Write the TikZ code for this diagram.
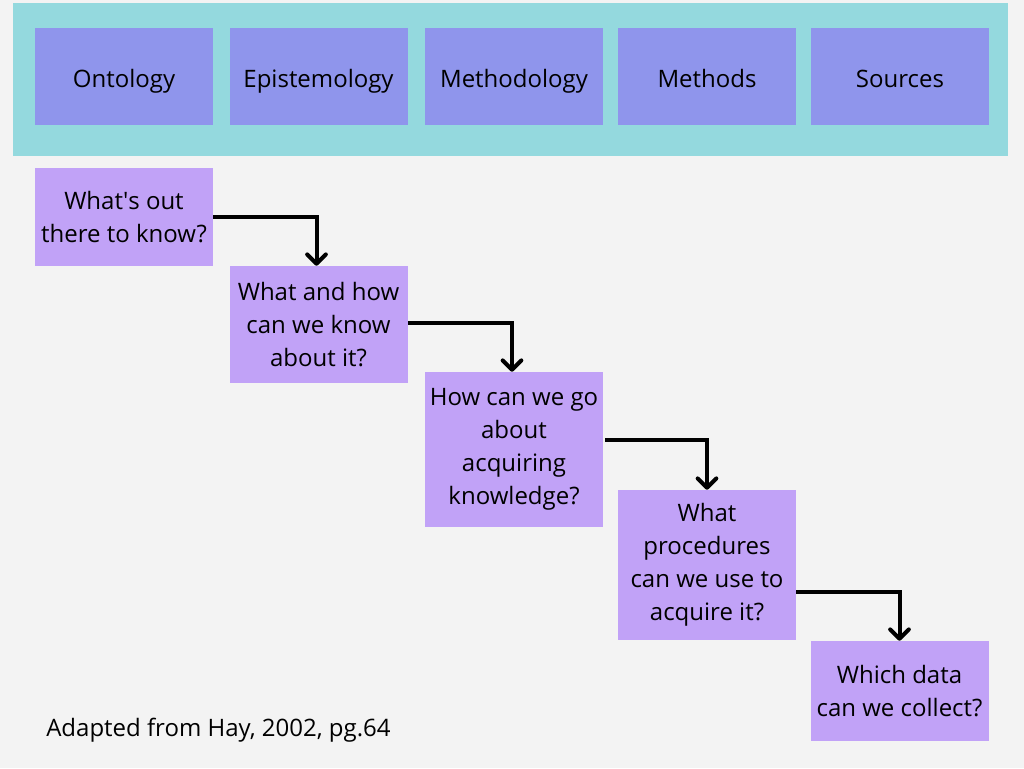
\documentclass[tikz,border=0pt]{standalone}
\usepackage{fontspec}
\setmainfont{Open Sans}
\usetikzlibrary{arrows.meta}
\definecolor{bgc}{HTML}{F3F3F3}
\definecolor{tealc}{HTML}{94D9DE}
\definecolor{bluec}{HTML}{8F95EC}
\definecolor{purpc}{HTML}{C1A2F7}
\tikzset{
  box/.style={inner sep=0pt, minimum width=133.5pt, align=center,
    font=\fontsize{18}{24.75}\selectfont, text=black},
  topbox/.style={box, fill=bluec, minimum height=72.75pt, text height=17pt, text depth=0.8pt},
  qbox/.style={box, fill=purpc},
  link/.style={line width=3pt, -{Straight Barb[length=7pt,width=14pt,line cap=round,line join=round]}}
}
\begin{document}
\begin{tikzpicture}[x=0.75pt,y=-0.75pt]
\fill[bgc] (0,0) rectangle (1024,768);
\useasboundingbox (0,0) rectangle (1024,768);
\fill[tealc] (13,3) rectangle (1008,156);
\node[topbox] (t1) at (124,76.5) {Ontology};
\node[topbox] (t2) at (318.5,76.5) {Epistemology};
\node[topbox] (t3) at (514,76.5) {Methodology};
\node[topbox] (t4) at (707,76.5) {Methods};
\node[topbox] (t5) at (900,76.5) {Sources};
\node[qbox, minimum height=73.5pt] (b1) at (124,217) {What\textquotesingle s out\\there to know?};
\node[qbox, minimum height=87.75pt] (b2) at (318.5,324.5) {What and how\\can we know\\about it?};
\node[qbox, minimum height=116.25pt] (b3) at (514,449.5) {How can we go\\about\\acquiring\\knowledge?};
\node[qbox, minimum height=112.5pt] (b4) at (707,565) {What\\procedures\\can we use to\\acquire it?};
\node[qbox, minimum height=75pt] (b5) at (899.5,691) {Which data\\can we collect?};
\draw[link] (b1.east) -| ([xshift=-1.5pt]b2.north);
\draw[link] ([yshift=1pt]b2.east) -| ([xshift=-1.5pt]b3.north);
\draw[link] ([yshift=7pt,xshift=1.5pt]b3.east) -| (b4.north);
\draw[link] ([yshift=-20pt]b4.east) -| (b5.north);
\node[anchor=base west, inner sep=0pt, font=\fontsize{18}{22}\selectfont] (note) at (46,736) {Adapted from Hay, 2002, pg.64};
\end{tikzpicture}
\end{document}
